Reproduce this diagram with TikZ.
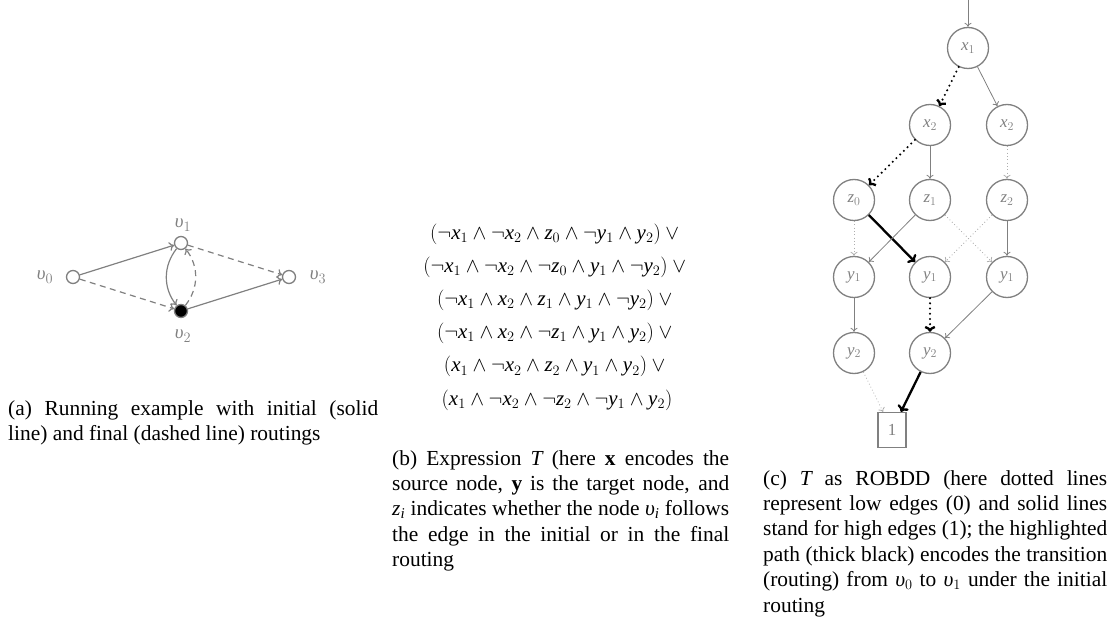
\documentclass[tikz,border=0pt]{standalone}
\usepackage{fontspec}
\setmainfont{Liberation Serif}
\newfontfamily\tmsfam{Liberation Serif}[NFSSFamily=tms]
\DeclareSymbolFont{letters}{TU}{tms}{m}{it}
\newcommand{\ups}{\mbox{\itshape υ}}
\usetikzlibrary{arrows.meta}
\definecolor{gr}{gray}{0.5}
\definecolor{lgr}{gray}{0.68}
\begin{document}
\begin{tikzpicture}[x=1bp,y=-1bp,
  vert/.style={circle, draw=gr, line width=1.3bp, minimum size=13bp, inner sep=0pt, fill=white},
  vlab/.style={text=gr, inner sep=0pt, font=\fontsize{19}{21}\selectfont},
  aedge/.style={gr, line width=1.2bp, -{To[length=5bp,width=9bp]}},
  adash/.style={aedge, dash pattern=on 6bp off 4.5bp},
  bdd/.style={circle, draw=gr, line width=1.3bp, minimum size=41bp, inner sep=0pt, text=gr, font=\fontsize{17}{19}\selectfont},
  term/.style={rectangle, draw=gr, line width=1.3bp, minimum width=28bp, minimum height=35bp, inner sep=0pt, text=gr, font=\fontsize{17}{19}\selectfont},
  hi/.style={gr, line width=0.8bp, -{To[length=4bp,width=7bp]}},
  lo/.style={lgr, line width=0.8bp, dash pattern=on 0.8bp off 2.5bp, -{To[length=4bp,width=7bp]}},
  phi/.style={black, line width=2.3bp, -{To[length=6bp,width=12bp]}},
  plo/.style={black, line width=2.3bp, line cap=round, dash pattern=on 0bp off 5.2bp, -{To[length=6bp,width=12bp,line cap=butt]}},
  captext/.style={anchor=north west, inner sep=0pt, align=justify, font=\fontsize{21.5}{25.5}\selectfont,
    execute at begin node={\hyphenpenalty=10000\relax\tolerance=10000\relax}}
]
\useasboundingbox (0,0) rectangle (1109,623);

% ---------- (a) ----------
\node[vert] (v0) at (73,277) {};
\node[vert] (v1) at (181,243) {};
\node[vert, fill=black] (v2) at (181,311) {};
\node[vert] (v3) at (289,277) {};
\node[vlab] (l0) at (45,277) {$\ups_0$};
\node[vlab] (l1) at (183,225) {$\ups_1$};
\node[vlab] (l2) at (183,336) {$\ups_2$};
\node[vlab] (l3) at (318,277) {$\ups_3$};
\draw[aedge] (v0) -- (v1);
\draw[adash] (v0) -- (v2);
\draw[aedge] (v1) to[bend right=38] (v2);
\draw[adash] (v2) to[bend right=38] (v1);
\draw[adash] (v1) -- (v3);
\draw[aedge] (v2) -- (v3);

\node[captext, text width=370bp] (capa) at (8,400) {(a) Running example with initial (solid\linebreak line) and final (dashed line) routings};

% ---------- (b) ----------
\node[inner sep=0pt, align=center, font=\fontsize{21}{33.3}\selectfont] (expr) at (557,317) {%
$(\neg x_1 \wedge \neg x_2 \wedge z_0 \wedge \neg y_1 \wedge y_2) \vee {}$\\
$(\neg x_1 \wedge \neg x_2 \wedge \neg z_0 \wedge y_1 \wedge \neg y_2) \vee {}$\\
$(\neg x_1 \wedge x_2 \wedge z_1 \wedge y_1 \wedge \neg y_2) \vee {}$\\
$(\neg x_1 \wedge x_2 \wedge \neg z_1 \wedge y_1 \wedge y_2) \vee {}$\\
$(x_1 \wedge \neg x_2 \wedge z_2 \wedge y_1 \wedge y_2) \vee {}$\\
$(x_1 \wedge \neg x_2 \wedge \neg z_2 \wedge \neg y_1 \wedge y_2)$};

\node[captext, text width=337bp] (capb) at (392,450) {(b) Expression $T$ (here \textbf{x} encodes the\linebreak source node, \textbf{y} is the target node, and\linebreak $z_i$ indicates whether the node $\ups_i$ follows\linebreak the edge in the initial or in the final\linebreak routing};

% ---------- (c) ----------
\node[bdd] (x1) at (968,48) {$x_1$};
\node[bdd] (x2a) at (930,125) {$x_2$};
\node[bdd] (x2b) at (1007,125) {$x_2$};
\node[bdd] (z0) at (854,200) {$z_0$};
\node[bdd] (z1) at (930,200) {$z_1$};
\node[bdd] (z2) at (1007,200) {$z_2$};
\node[bdd] (y1a) at (854,277) {$y_1$};
\node[bdd] (y1b) at (930,277) {$y_1$};
\node[bdd] (y1c) at (1007,277) {$y_1$};
\node[bdd] (y2a) at (854,353) {$y_2$};
\node[bdd] (y2b) at (930,353) {$y_2$};
\node[term] (one) at (892,430) {1};
\coordinate (entry) at (968,0);

\draw[hi] (entry) -- (x1);
\draw[plo] (x1) -- (x2a);
\draw[hi] (x1) -- (x2b);
\draw[plo] (x2a) -- (z0);
\draw[hi] (x2a) -- (z1);
\draw[lo] (x2b) -- (z2);
\draw[lo] (z0) -- (y1a);
\draw[phi] (z0) -- (y1b);
\draw[hi] (z1) -- (y1a);
\draw[lo] (z1) -- (y1c);
\draw[lo] (z2) -- (y1b);
\draw[hi] (z2) -- (y1c);
\draw[hi] (y1a) -- (y2a);
\draw[plo] (y1b) -- (y2b);
\draw[hi] (y1c) -- (y2b);
\draw[lo] (y2a) -- (one);
\draw[phi] (y2b) -- (one);

\node[captext, text width=344bp] (capc) at (763,470) {(c) $T$ as ROBDD (here dotted lines\linebreak represent low edges (0) and solid lines\linebreak stand for high edges (1); the highlighted\linebreak path (thick black) encodes the transition\linebreak (routing) from $\ups_0$ to $\ups_1$ under the initial\linebreak routing};
\end{tikzpicture}
\end{document}
